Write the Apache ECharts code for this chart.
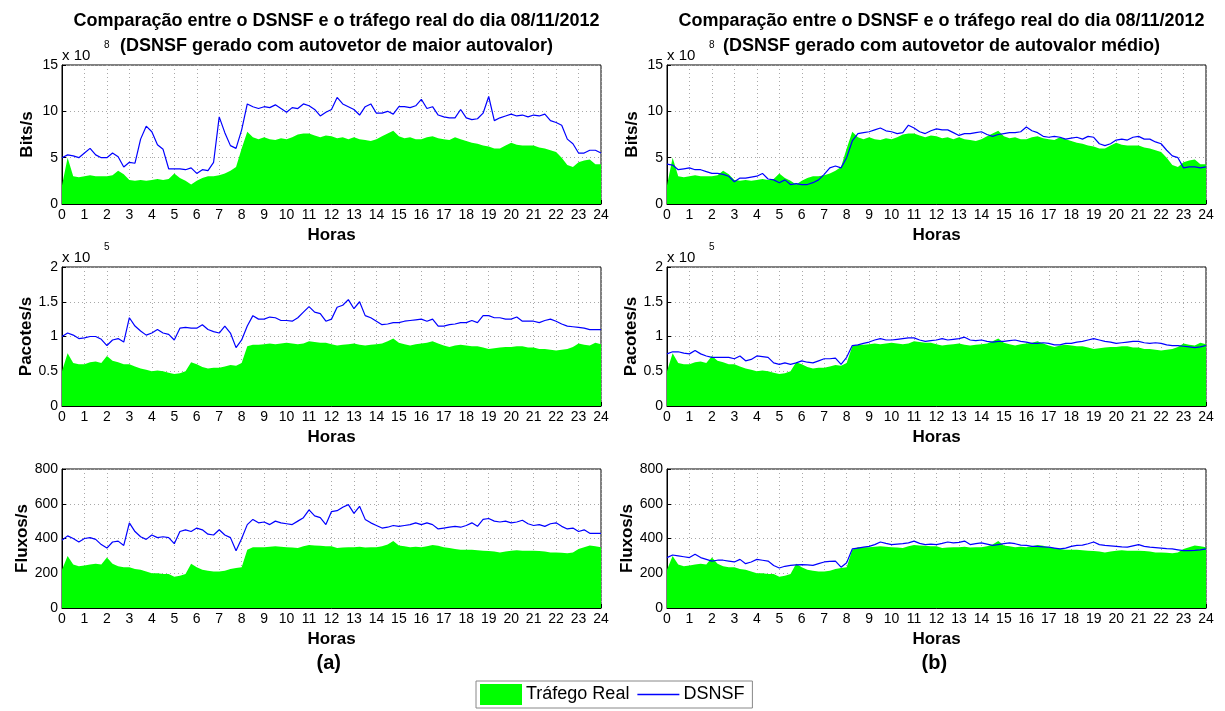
<!DOCTYPE html>
<html>
<head>
<meta charset="utf-8">
<title>DSNSF x tráfego real</title>
<script src="https://cdn.jsdelivr.net/npm/echarts@6/dist/echarts.min.js"></script>
<style>
  html, body { margin: 0; padding: 0; background: #fff; }
  #chart { width: 1225px; height: 711px; }
</style>
</head>
<body>
<div id="chart"></div>
<script>
// amostras a cada 15 minutos (0h .. 24h)
const horas = [];
for (let i = 0; i <= 96; i++) horas.push(i / 4);

// Bits/s (x 10^8)
const bitsReal = [
  2.0, 5.0, 3.0, 2.9,  3.0, 3.1, 3.0, 3.0,  3.0, 3.1, 3.6, 3.2,  2.6, 2.5, 2.6, 2.5,
  2.6, 2.7, 2.6, 2.7,  3.3, 2.8, 2.5, 2.1,  2.5, 2.8, 3.0, 3.0,  3.1, 3.3, 3.6, 4.0,
  6.0, 7.8, 7.2, 7.0,  7.2, 7.0, 6.9, 7.1,  7.0, 7.2, 7.5, 7.6,  7.6, 7.4, 7.2, 7.4,
  7.3, 7.1, 7.2, 7.0,  7.2, 7.0, 6.9, 6.8,  7.0, 7.3, 7.6, 7.9,  7.3, 7.1, 7.2, 7.0,
  7.0, 7.2, 7.3, 7.1,  7.0, 6.9, 7.2, 7.0,  6.8, 6.6, 6.5, 6.3,  6.2, 6.0, 6.0, 6.3,
  6.6, 6.4, 6.3, 6.3,  6.3, 6.1, 6.0, 5.8,  5.6, 5.0, 4.2, 4.0,  4.5, 4.7, 4.8, 4.3,
  4.3
];
const bitsDsnsfA = [
  5.0, 5.3, 5.2, 5.0,  5.5, 6.0, 5.3, 5.0,  5.0, 5.5, 5.1, 4.0,  4.5, 4.4, 7.0, 8.4,
  7.8, 6.4, 5.9, 3.8,  3.8, 3.8, 3.7, 3.9,  3.3, 3.7, 3.6, 4.5,  9.4, 7.7, 6.3, 6.0,
  8.0, 10.8, 10.5, 10.3,  10.5, 10.4, 10.7, 10.3,  9.9, 10.4, 10.3, 10.8,  10.6, 10.2, 9.5, 9.9,
  10.2, 11.5, 10.8, 10.5,  10.2, 9.6, 10.5, 10.8,  9.8, 9.8, 10.0, 9.7,  10.5, 10.5, 10.4, 10.6,
  11.3, 10.3, 10.5, 9.6,  9.4, 9.3, 9.3, 10.2,  9.3, 9.1, 9.2, 9.8,  11.6, 9.0, 9.3, 9.5,
  9.7, 9.5, 9.6, 9.4,  9.6, 9.5, 9.7, 9.0,  8.8, 8.5, 7.0, 6.5,  5.5, 5.5, 5.8, 5.8,
  5.5
];
const bitsDsnsfB = [
  4.3, 4.2, 3.7, 3.8,  3.9, 3.7, 3.7, 3.5,  3.3, 3.3, 3.2, 3.0,  2.4, 2.8, 2.8, 2.9,
  3.0, 3.3, 2.7, 2.6,  2.3, 2.6, 2.1, 2.2,  2.1, 2.1, 2.3, 2.6,  3.2, 3.9, 4.1, 3.9,
  5.0, 6.8, 7.6, 7.7,  7.8, 8.0, 8.2, 7.9,  7.8, 7.6, 7.7, 8.5,  8.2, 7.8, 7.6, 7.9,
  8.1, 8.0, 8.0, 7.7,  7.4, 7.6, 7.6, 7.7,  7.8, 7.5, 7.3, 7.5,  7.6, 7.7, 7.7, 7.8,
  8.3, 7.9, 7.7, 7.3,  7.2, 7.3, 7.2, 7.0,  7.1, 7.2, 7.0, 7.3,  7.2, 6.5, 6.3, 6.5,
  6.9, 7.0, 6.9, 7.2,  7.3, 7.0, 7.0, 6.7,  6.5, 5.8, 5.2, 5.0,  3.9, 4.0, 4.0, 3.9,
  4.0
];

// Pacotes/s (x 10^5)
const pacotesReal = [
  0.50, 0.76, 0.62, 0.60,  0.60, 0.63, 0.64, 0.62,  0.72, 0.65, 0.63, 0.60,  0.60, 0.57, 0.54, 0.52,
  0.50, 0.51, 0.50, 0.48,  0.46, 0.47, 0.50, 0.63,  0.60, 0.56, 0.54, 0.55,  0.55, 0.57, 0.59, 0.58,
  0.62, 0.86, 0.88, 0.88,  0.89, 0.90, 0.89, 0.90,  0.91, 0.90, 0.89, 0.90,  0.93, 0.92, 0.91, 0.91,
  0.89, 0.87, 0.88, 0.89,  0.90, 0.88, 0.87, 0.88,  0.89, 0.90, 0.93, 0.97,  0.91, 0.89, 0.87, 0.89,
  0.90, 0.91, 0.93, 0.90,  0.87, 0.85, 0.87, 0.88,  0.87, 0.86, 0.86, 0.84,  0.82, 0.83, 0.84, 0.85,
  0.85, 0.86, 0.86, 0.84,  0.84, 0.82, 0.82, 0.81,  0.80, 0.81, 0.82, 0.85,  0.90, 0.88, 0.87, 0.91,
  0.89
];
const pacotesDsnsfA = [
  1.00, 1.05, 1.02, 0.97,  0.98, 1.00, 1.00, 0.96,  0.87, 0.95, 0.97, 0.92,  1.27, 1.15, 1.08, 1.02,
  1.05, 1.10, 1.05, 1.03,  0.95, 1.12, 1.13, 1.12,  1.12, 1.17, 1.10, 1.07,  1.05, 1.15, 1.05, 0.84,
  0.95, 1.15, 1.30, 1.25,  1.25, 1.28, 1.27, 1.23,  1.23, 1.22, 1.27, 1.35,  1.43, 1.35, 1.33, 1.22,
  1.25, 1.42, 1.45, 1.53,  1.40, 1.50, 1.30, 1.27,  1.22, 1.17, 1.18, 1.20,  1.20, 1.22, 1.23, 1.24,
  1.25, 1.22, 1.25, 1.15,  1.15, 1.17, 1.18, 1.20,  1.20, 1.23, 1.20, 1.30,  1.30, 1.27, 1.27, 1.25,
  1.25, 1.28, 1.22, 1.22,  1.22, 1.20, 1.23, 1.25,  1.22, 1.18, 1.15, 1.14,  1.13, 1.12, 1.10, 1.10,
  1.10
];
const pacotesDsnsfB = [
  0.75, 0.78, 0.78, 0.76,  0.75, 0.80, 0.75, 0.72,  0.70, 0.70, 0.70, 0.70,  0.68, 0.72, 0.65, 0.67,
  0.72, 0.71, 0.70, 0.62,  0.60, 0.62, 0.60, 0.62,  0.65, 0.63, 0.62, 0.65,  0.68, 0.68, 0.69, 0.60,
  0.70, 0.87, 0.88, 0.90,  0.92, 0.95, 0.97, 0.95,  0.95, 0.96, 0.97, 0.98,  0.98, 0.95, 0.93, 0.94,
  0.95, 0.97, 0.95, 0.96,  0.97, 0.99, 0.95, 0.94,  0.95, 0.93, 0.92, 0.93,  0.93, 0.94, 0.95, 0.93,
  0.92, 0.90, 0.90, 0.91,  0.90, 0.88, 0.88, 0.90,  0.90, 0.92, 0.93, 0.95,  0.97, 0.95, 0.93, 0.92,
  0.90, 0.91, 0.92, 0.93,  0.93, 0.91, 0.90, 0.91,  0.90, 0.88, 0.87, 0.87,  0.86, 0.85, 0.84, 0.85,
  0.87
];

// Fluxos/s
const fluxosReal = [
  220, 300, 250, 240,  245, 250, 255, 250,  290, 255, 240, 235,  235, 225, 220, 210,
  200, 200, 195, 195,  180, 185, 195, 255,  235, 220, 215, 210,  210, 215, 225, 230,
  235, 335, 350, 350,  350, 352, 355, 352,  350, 348, 345, 355,  362, 360, 358, 356,
  355, 345, 348, 350,  350, 352, 348, 350,  350, 355, 365, 385,  360, 355, 350, 352,
  350, 355, 362, 358,  350, 345, 340, 335,  335, 335, 332, 330,  328, 325, 320, 325,
  330, 332, 330, 330,  330, 328, 325, 320,  320, 318, 315, 320,  340, 350, 360, 355,
  350
];
const fluxosDsnsfA = [
  390, 415, 400, 380,  400, 405, 395, 365,  345, 380, 385, 360,  490, 440, 410, 395,
  420, 405, 410, 405,  370, 440, 450, 440,  460, 450, 425, 420,  450, 420, 405, 330,
  400, 480, 510, 490,  495, 480, 500, 490,  485, 480, 500, 520,  565, 530, 520, 480,
  555, 560, 580, 595,  545, 585, 510, 490,  475, 460, 465, 475,  470, 475, 480, 490,
  480, 490, 480, 455,  460, 465, 470, 465,  475, 490, 470, 510,  515, 500, 495, 500,
  490, 495, 505, 485,  475, 480, 470, 485,  490, 470, 455, 460,  440, 450, 430, 430,
  430
];
const fluxosDsnsfB = [
  290, 305, 300, 295,  290, 310, 290, 280,  270, 275, 275, 270,  265, 280, 255, 265,
  280, 275, 270, 245,  230, 240, 245, 248,  250, 248, 245, 255,  265, 268, 270, 235,
  260, 340, 345, 350,  355, 365, 380, 372,  365, 368, 370, 375,  385, 372, 365, 368,
  365, 372, 380, 375,  378, 385, 365, 370,  375, 368, 360, 365,  370, 375, 370, 362,
  360, 355, 355, 352,  350, 345, 340, 345,  355, 360, 362, 370,  380, 365, 360, 358,
  355, 352, 350, 358,  365, 355, 350, 348,  345, 342, 340, 335,  330, 330, 332, 335,
  340
];

const titulos = [
  'Comparação entre o DSNSF e o tráfego real do dia 08/11/2012\n(DSNSF gerado com autovetor de maior autovalor)',
  'Comparação entre o DSNSF e o tráfego real do dia 08/11/2012\n(DSNSF gerado com autovetor de autovalor médio)'
];
const rotulosPainel = ['(a)', '(b)'];

// uma linha de graficos por metrica
const linhas = [
  { nome: 'Bits/s', max: 15, passo: 5, expoente: '8', real: bitsReal, dsnsf: [bitsDsnsfA, bitsDsnsfB] },
  { nome: 'Pacotes/s', max: 2, passo: 0.5, expoente: '5', real: pacotesReal, dsnsf: [pacotesDsnsfA, pacotesDsnsfB] },
  { nome: 'Fluxos/s', max: 800, passo: 200, expoente: null, real: fluxosReal, dsnsf: [fluxosDsnsfA, fluxosDsnsfB] }
];

// layout (px)
const colLeft = [62, 667];
const rowTop = [65, 267, 469];
const plotW = 539;
const plotH = 139;
const fonte = '"Liberation Sans", Arial, Helvetica, sans-serif';

const pares = vals => vals.map((v, i) => [horas[i], v]);

const grids = [], xAxes = [], yAxes = [], series = [], graphic = [];

linhas.forEach((linha, r) => {
  colLeft.forEach((left, c) => {
    const g = xAxes.length;
    grids.push({
      left: left, top: rowTop[r], width: plotW, height: plotH,
      show: true, borderColor: '#000', borderWidth: 1, backgroundColor: 'transparent'
    });
    xAxes.push({
      gridIndex: g, type: 'value', min: 0, max: 24, interval: 1,
      name: 'Horas', nameLocation: 'middle', nameGap: 23,
      nameTextStyle: { fontFamily: fonte, fontSize: 17, fontWeight: 'bold', color: '#000' },
      axisLine: { lineStyle: { color: '#000', width: 1 } },
      axisTick: { inside: true, length: 4, lineStyle: { color: '#000' } },
      axisLabel: { color: '#000', fontFamily: fonte, fontSize: 14, margin: 4 },
      splitLine: { show: true, lineStyle: { color: '#a8a8a8', type: [1, 3], width: 1 } }
    });
    yAxes.push({
      gridIndex: g, type: 'value', min: 0, max: linha.max, interval: linha.passo,
      name: linha.nome, nameLocation: 'middle', nameGap: 26,
      nameTextStyle: { fontFamily: fonte, fontSize: 17, fontWeight: 'bold', color: '#000' },
      axisLine: { show: true, lineStyle: { color: '#000', width: 1 } },
      axisTick: { show: true, inside: true, length: 4, lineStyle: { color: '#000' } },
      axisLabel: { color: '#000', fontFamily: fonte, fontSize: 14, margin: 4 },
      splitLine: { show: true, lineStyle: { color: '#a8a8a8', type: [1, 3], width: 1 } }
    });
    series.push({
      name: 'Tráfego Real', type: 'line', xAxisIndex: g, yAxisIndex: g,
      data: pares(linha.real), symbol: 'none', silent: true,
      lineStyle: { width: 0, color: '#00ff00' },
      itemStyle: { color: '#00ff00' },
      areaStyle: { color: '#00ff00', opacity: 1 },
      z: 2
    });
    series.push({
      name: 'DSNSF', type: 'line', xAxisIndex: g, yAxisIndex: g,
      data: pares(linha.dsnsf[c]), symbol: 'none', silent: true,
      lineStyle: { width: 1.2, color: '#0000ff' },
      itemStyle: { color: '#0000ff' },
      z: 3
    });
    // fator de escala "x 10^n" no topo do eixo
    if (linha.expoente) {
      graphic.push({
        type: 'text', left: left, top: rowTop[r] - 17,
        style: { text: 'x 10', font: '15px ' + fonte, fill: '#000' }
      });
      graphic.push({
        type: 'text', left: left + 42, top: rowTop[r] - 25,
        style: { text: linha.expoente, font: '10px ' + fonte, fill: '#000' }
      });
    }
  });
});

// rotulos (a) e (b)
colLeft.forEach((left, c) => {
  graphic.push({
    type: 'text', left: left + plotW / 2 - 15, top: 653,
    style: { text: rotulosPainel[c], font: 'bold 20px ' + fonte, fill: '#000' }
  });
});

const chart = echarts.init(document.getElementById('chart'), null, { renderer: 'canvas' });

chart.setOption({
  animation: false,
  backgroundColor: '#fff',
  title: titulos.map((t, c) => ({
    text: t,
    left: colLeft[c] + plotW / 2,
    top: 4,
    textAlign: 'center',
    textStyle: { fontFamily: fonte, fontSize: 18, fontWeight: 'bold', color: '#000', lineHeight: 25 }
  })),
  legend: {
    left: 476, top: 681,
    data: [
      { name: 'Tráfego Real', icon: 'rect' },
      { name: 'DSNSF', icon: 'path://M0,0 H40 V1.4 H0 Z' }
    ],
    itemWidth: 42, itemHeight: 21, itemGap: 8,
    padding: [3, 8, 3, 4],
    borderColor: '#888', borderWidth: 1,
    textStyle: { fontFamily: fonte, fontSize: 18, color: '#000', padding: [0, 0, 0, -1] },
    selectedMode: false
  },
  grid: grids,
  xAxis: xAxes,
  yAxis: yAxes,
  series: series,
  graphic: graphic
});
</script>
</body>
</html>
